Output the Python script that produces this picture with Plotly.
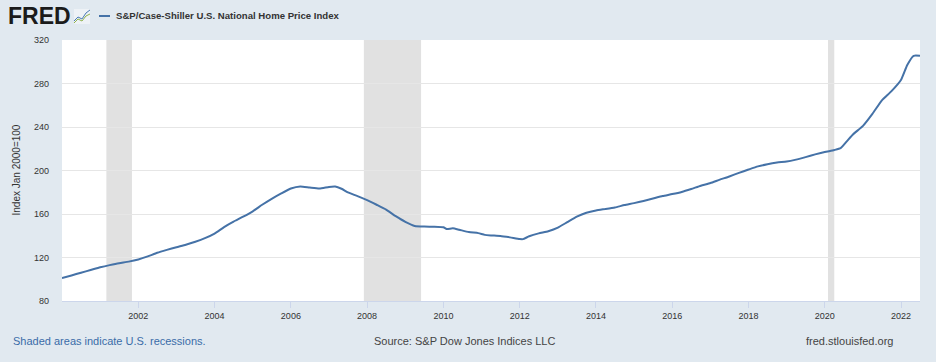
import plotly.graph_objects as go

dates = ["2000-01-01","2000-04-01","2000-07-01","2000-10-01","2001-01-01","2001-04-01","2001-07-01","2001-10-01",
         "2002-01-01","2002-04-01","2002-07-01","2002-10-01","2003-01-01","2003-04-01","2003-07-01","2003-10-01",
         "2004-01-01","2004-04-01","2004-07-01","2004-10-01","2005-01-01","2005-04-01","2005-07-01","2005-10-01",
         "2006-01-01","2006-04-01","2006-07-01","2006-10-01","2007-01-01","2007-03-01","2007-05-01","2007-07-01","2007-10-01",
         "2008-01-01","2008-04-01","2008-07-01","2008-10-01","2009-01-01","2009-04-01","2009-07-01","2009-10-01",
         "2010-01-01","2010-02-01","2010-04-01","2010-06-01","2010-09-01","2010-12-01","2011-02-01","2011-04-01","2011-07-01","2011-10-01",
         "2012-01-01","2012-02-01","2012-04-01","2012-07-01","2012-10-01","2013-01-01","2013-04-01","2013-07-01","2013-10-01",
         "2014-01-01","2014-04-01","2014-07-01","2014-10-01","2015-01-01","2015-04-01","2015-07-01","2015-10-01",
         "2016-01-01","2016-04-01","2016-07-01","2016-10-01","2017-01-01","2017-04-01","2017-07-01","2017-10-01",
         "2018-01-01","2018-04-01","2018-07-01","2018-10-01","2019-01-01","2019-04-01","2019-07-01","2019-10-01",
         "2020-01-01","2020-04-01","2020-06-01","2020-08-01","2020-10-01","2021-01-01","2021-04-01","2021-07-01","2021-10-01",
         "2022-01-01","2022-03-01","2022-05-01","2022-07-01"]
values = [101.0,103.5,106.0,108.5,111.0,113.0,114.8,116.2,
          118.2,121.0,124.3,127.0,129.5,131.8,134.5,137.8,
          142.0,148.0,153.0,157.5,162.5,168.5,174.0,179.0,
          183.5,185.4,184.3,183.4,184.9,185.3,183.2,179.8,176.5,
          172.8,168.5,164.0,158.0,152.8,149.0,148.4,148.3,
          147.8,146.2,146.8,145.5,143.4,142.4,140.8,140.3,139.8,138.5,
          137.0,136.9,139.5,142.2,144.2,147.5,152.5,157.5,161.2,
          163.3,164.6,166.0,168.2,170.0,172.0,174.2,176.5,
          178.3,180.3,183.0,186.0,188.5,191.6,194.5,197.8,
          200.9,203.8,205.8,207.3,208.2,210.0,212.3,214.8,
          217.0,218.8,220.5,227.0,233.5,241.0,252.0,264.5,273.0,
          283.5,297.0,305.5,305.5]

recessions = [("2001-03-01", "2001-11-01"), ("2007-12-01", "2009-06-01"), ("2020-02-01", "2020-04-01")]
y_ticks = [80, 120, 160, 200, 240, 280, 320]
x_ticks = ["2002-01-01","2004-01-01","2006-01-01","2008-01-01","2010-01-01","2012-01-01",
           "2014-01-01","2016-01-01","2018-01-01","2020-01-01","2022-01-01"]
x_labels = ["2002","2004","2006","2008","2010","2012","2014","2016","2018","2020","2022"]

W, H = 936, 362
L, R, T, B = 62, 16, 40, 61
pw, ph = W - L - R, H - T - B
def px(x):
    return (x - L) / pw
def py(y):
    return (H - B - y) / ph

font = "Liberation Sans, Arial, sans-serif"
fig = go.Figure()
fig.add_trace(go.Scatter(x=dates, y=values, mode="lines",
                         line=dict(color="#4572a7", width=2, shape="spline", smoothing=0.5),
                         hoverinfo="x+y", showlegend=False))

shapes = []
for s, e in recessions:
    shapes.append(dict(type="rect", xref="x", yref="paper", x0=s, x1=e, y0=0, y1=1,
                       fillcolor="#e1e1e1", line=dict(width=0), layer="below"))
# legend line
shapes.append(dict(type="line", xref="paper", yref="paper", x0=px(99), x1=px(110), y0=py(16), y1=py(16),
                   line=dict(color="#4572a7", width=2)))
# FRED icon
shapes.append(dict(type="rect", xref="paper", yref="paper", x0=px(74), x1=px(90), y0=py(24), y1=py(9),
                   fillcolor="#eef2f6", line=dict(width=0)))
shapes.append(dict(type="path", xref="paper", yref="paper",
                   path="M %f %f L %f %f L %f %f L %f %f L %f %f" % (px(74), py(21), px(78), py(17), px(82), py(19), px(86), py(13), px(90), py(10)),
                   line=dict(color="#4a7ab5", width=1)))
shapes.append(dict(type="path", xref="paper", yref="paper",
                   path="M %f %f L %f %f L %f %f L %f %f L %f %f" % (px(74), py(23), px(78), py(19), px(82), py(21), px(86), py(16), px(90), py(14)),
                   line=dict(color="#8fb24a", width=1)))

annotations = [
    dict(text="<b>FRED</b>", x=px(6), y=py(16), xref="paper", yref="paper", xanchor="left", yanchor="middle",
         showarrow=False, font=dict(family="Liberation Sans, Arial", size=23, color="#1b1b1b")),
    dict(text="<b>S&P/Case-Shiller U.S. National Home Price Index</b>", x=px(114), y=py(16), xref="paper", yref="paper",
         xanchor="left", yanchor="middle", showarrow=False, font=dict(family=font, size=9.6, color="#333333")),
    dict(text="Index Jan 2000=100", x=px(16), y=0.5, xref="paper", yref="paper", textangle=-90,
         xanchor="center", yanchor="middle", showarrow=False, font=dict(family=font, size=10, color="#333333")),
    dict(text="Shaded areas indicate U.S. recessions.", x=px(11), y=py(341), xref="paper", yref="paper",
         xanchor="left", yanchor="middle", showarrow=False, font=dict(family=font, size=11, color="#3a6ca8")),
    dict(text="Source: S&P Dow Jones Indices LLC", x=px(464), y=py(341), xref="paper", yref="paper",
         xanchor="center", yanchor="middle", showarrow=False, font=dict(family=font, size=11, color="#444444")),
    dict(text="fred.stlouisfed.org", x=px(895), y=py(341), xref="paper", yref="paper",
         xanchor="right", yanchor="middle", showarrow=False, font=dict(family=font, size=11, color="#444444")),
]

fig.update_layout(
    width=W, height=H, margin=dict(l=L, r=R, t=T, b=B),
    paper_bgcolor="#e1e9f0", plot_bgcolor="#ffffff",
    shapes=shapes, annotations=annotations, showlegend=False,
    font=dict(family=font, size=9, color="#333333"),
    xaxis=dict(type="date", range=["2000-01-01", "2022-07-01"], tickvals=x_ticks, ticktext=x_labels,
               showgrid=False, zeroline=False, showline=True, linecolor="#ccd6eb", linewidth=1,
               ticks="outside", ticklen=6, tickcolor="#ccd6eb", tickfont=dict(size=9, color="#333333")),
    yaxis=dict(range=[80, 320], tickvals=y_ticks, showgrid=True, gridcolor="#e6e6e6", gridwidth=1,
               zeroline=False, showline=False, ticks="", ticklabelstandoff=12,
               tickfont=dict(size=9, color="#333333")),
)
fig.write_html("out.html", config={"displayModeBar": False},
               post_script="document.body.style.margin='0';document.body.style.background='#e1e9f0';")
